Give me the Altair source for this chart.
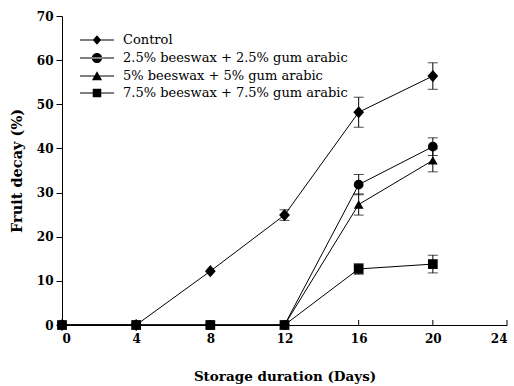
import altair as alt
import pandas as pd

days = [0, 4, 8, 12, 16, 20]
series_names = ["Control", "2.5% beeswax + 2.5% gum arabic",
                "5% beeswax + 5% gum arabic", "7.5% beeswax + 7.5% gum arabic"]
control = [0, 0, 12.2, 24.9, 48.2, 56.4]
control_err = [0, 0, 0, 1.2, 3.4, 3.0]
bg25 = [0, 0, 0, 0, 31.8, 40.4]
bg25_err = [0, 0, 0, 0, 2.3, 2.0]
bg5 = [0, 0, 0, 0, 27.3, 37.3]
bg5_err = [0, 0, 0, 0, 2.4, 2.6]
bg75 = [0, 0, 0, 0, 12.7, 13.8]
bg75_err = [0, 0, 0, 0, 1.2, 2.0]
x_ticks = [0, 4, 8, 12, 16, 20, 24]
y_ticks = [0, 10, 20, 30, 40, 50, 60, 70]

vals = [control, bg25, bg5, bg75]
errs = [control_err, bg25_err, bg5_err, bg75_err]
rows = []
for name, v, e in zip(series_names, vals, errs):
    for d, y, er in zip(days, v, e):
        rows.append({"day": d, "decay": y, "series": name,
                     "lo": y - er, "hi": y + er, "err": er})
df = pd.DataFrame(rows)
err_df = df[df["err"] > 0]

FONT = "DejaVu Serif"
xs = alt.Scale(domain=[0, 24], nice=False)
ys = alt.Scale(domain=[0, 70], nice=False)

xax = alt.Axis(values=x_ticks, title="Storage duration (Days)", grid=False,
               tickSize=0, labelPadding=8, titlePadding=25, titleFontSize=13.5)
yax = alt.Axis(values=y_ticks, title="Fruit decay (%)", grid=False,
               tickSize=6, labelPadding=3, titlePadding=12, titleFontSize=14.5)

base = alt.Chart(df)

lines = base.mark_line(color="black", strokeWidth=1).encode(
    x=alt.X("day:Q", scale=xs, axis=xax),
    y=alt.Y("decay:Q", scale=ys, axis=yax),
    detail="series:N",
)

rules = alt.Chart(err_df).mark_rule(color="black", strokeWidth=1).encode(
    x="day:Q", y="lo:Q", y2="hi:Q")
caps_hi = alt.Chart(err_df).mark_tick(color="black", thickness=1, size=10,
                                      orient="horizontal").encode(x="day:Q", y="hi:Q")
caps_lo = alt.Chart(err_df).mark_tick(color="black", thickness=1, size=10,
                                      orient="horizontal").encode(x="day:Q", y="lo:Q")

DIAMOND = "M0,-1.25L1.1,0L0,1.25L-1.1,0Z"
points = base.mark_point(filled=True, color="black", opacity=1, size=95).encode(
    x="day:Q", y="decay:Q",
    shape=alt.Shape("series:N", legend=None,
                    scale=alt.Scale(domain=series_names,
                                    range=[DIAMOND, "circle", "triangle-up", "square"])),
)

tick_df = pd.DataFrame({"t": x_ticks})
xtick_marks = alt.Chart(tick_df).mark_rule(color="black", strokeWidth=1).encode(
    x="t:Q", y=alt.value(309), y2=alt.value(304))

BAR = "M-2,-0.07L2,-0.07L2,0.07L-2,0.07Z"
leg_paths = [
    BAR + "M0,-0.55L0.5,0L0,0.55L-0.5,0Z",
    BAR + "M-0.6,0A0.6,0.6 0 1,0 0.6,0A0.6,0.6 0 1,0 -0.6,0Z",
    BAR + "M0,-0.55L0.6,0.5L-0.6,0.5Z",
    BAR + "M-0.5,-0.5L0.5,-0.5L0.5,0.5L-0.5,0.5Z",
]
leg_df = pd.DataFrame({"series": series_names, "day": [-50] * 4, "decay": [-50] * 4})
legend_layer = alt.Chart(leg_df).mark_point(filled=True, color="black", opacity=1,
                                            clip=True).encode(
    x="day:Q", y="decay:Q",
    shape=alt.Shape("series:N",
                    scale=alt.Scale(domain=series_names, range=leg_paths),
                    legend=alt.Legend(title=None, orient="none", legendX=25.5, legendY=14.5,
                                      symbolSize=289, labelFont=FONT, labelFontSize=13,
                                      labelColor="black", labelOffset=16.5, rowPadding=-2,
                                      labelLimit=400, symbolFillColor="black",
                                      symbolOpacity=1)),
)

chart = alt.layer(lines, rules, caps_hi, caps_lo, points, xtick_marks, legend_layer).resolve_scale(
    shape="independent"
).properties(
    width=445, height=309,
    autosize=alt.AutoSizeParams(type="none"),
    padding={"left": 62, "top": 16, "right": 7, "bottom": 61},
    background="white",
).configure_view(stroke=None).configure_axis(
    labelFont=FONT, titleFont=FONT, labelFontSize=12,
    labelFontWeight="bold", titleFontWeight="bold", labelColor="black", titleColor="black",
    domainColor="black", tickColor="black", domainWidth=1,
)

chart.save("out.html", embed_options={"renderer": "svg", "actions": False})
